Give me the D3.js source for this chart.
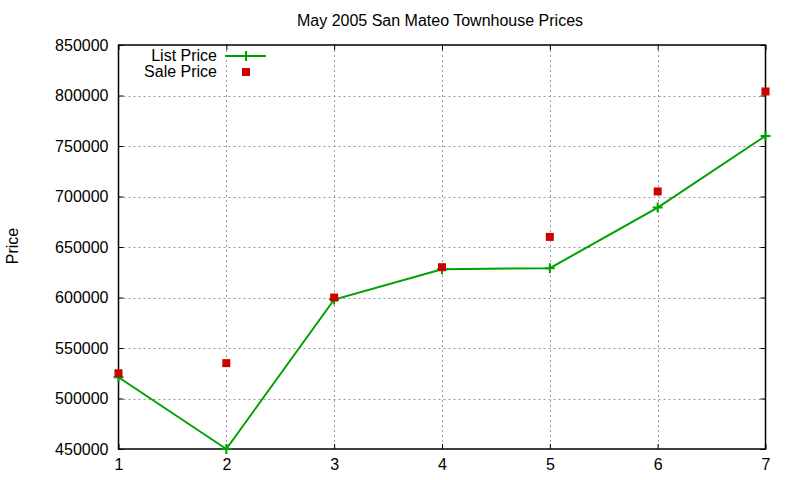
<!DOCTYPE html>
<html>
<head>
<meta charset="utf-8">
<script src="https://cdn.jsdelivr.net/npm/d3@7"></script>
<style>
  body { margin: 0; background: #fff; }
  text { font-family: "Liberation Sans", Arial, sans-serif; fill: #000; }
</style>
</head>
<body>
<svg id="chart" width="800" height="480"></svg>
<script>
// data
const bedrooms = [1, 2, 3, 4, 5, 6, 7];
const listPrice = [521000, 450000, 598000, 628000, 629000, 689000, 760000];
const salePrice = [525000, 535000, 600000, 630000, 660000, 705000, 804000];
const yTicks = [450000, 500000, 550000, 600000, 650000, 700000, 750000, 800000, 850000];

const margin = {top: 45, right: 34.5, bottom: 31, left: 118.5};
const width = 800, height = 480;

const svg = d3.select('#chart');

const x = d3.scaleLinear().domain([1, 7]).range([margin.left, width - margin.right]);
const y = d3.scaleLinear().domain([450000, 850000]).range([height - margin.bottom, margin.top]);

// grid
const grid = svg.append('g').attr('stroke', '#999').attr('stroke-width', 1).attr('stroke-dasharray', '2,3');
grid.selectAll('.gx').data(bedrooms.slice(1, -1)).join('line')
  .attr('x1', d => Math.round(x(d)) + 0.5).attr('x2', d => Math.round(x(d)) + 0.5)
  .attr('y1', margin.top).attr('y2', height - margin.bottom);
grid.selectAll('.gy').data(yTicks.slice(1, -1)).join('line')
  .attr('y1', d => Math.round(y(d)) + 0.5).attr('y2', d => Math.round(y(d)) + 0.5)
  .attr('x1', margin.left).attr('x2', width - margin.right);

// axes
const fmt = d3.format('d');
svg.append('g')
  .attr('transform', `translate(${margin.left},0)`)
  .call(d3.axisLeft(y).tickValues(yTicks).tickFormat(fmt).tickSizeInner(-5).tickSizeOuter(0).tickPadding(10))
  .call(g => g.select('.domain').remove())
  .call(g => g.selectAll('text').style('font-size', '16px'));
svg.append('g')
  .attr('transform', `translate(${width - margin.right},0)`)
  .call(d3.axisRight(y).tickValues(yTicks).tickFormat('').tickSizeInner(-5).tickSizeOuter(0))
  .call(g => g.select('.domain').remove());
svg.append('g')
  .attr('transform', `translate(0,${height - margin.bottom})`)
  .call(d3.axisBottom(x).tickValues(bedrooms).tickFormat(fmt).tickSizeInner(-5).tickSizeOuter(0).tickPadding(10))
  .call(g => g.select('.domain').remove())
  .call(g => g.selectAll('text').style('font-size', '16px'));
svg.append('g')
  .attr('transform', `translate(0,${margin.top})`)
  .call(d3.axisTop(x).tickValues(bedrooms).tickFormat('').tickSizeInner(-5).tickSizeOuter(0))
  .call(g => g.select('.domain').remove());

svg.append('rect')
  .attr('x', margin.left).attr('y', margin.top)
  .attr('width', width - margin.left - margin.right)
  .attr('height', height - margin.top - margin.bottom)
  .attr('fill', 'none').attr('stroke', '#000').attr('stroke-width', 1.5);

// list price line
const green = '#00a000';
const red = '#cc0000';
const line = d3.line().x((d, i) => x(bedrooms[i])).y(d => y(d));
svg.append('path').datum(listPrice)
  .attr('d', line).attr('fill', 'none').attr('stroke', green).attr('stroke-width', 2);

const plus = (g, cx, cy) => g.append('path')
  .attr('d', `M${cx - 5},${cy}H${cx + 5}M${cx},${cy - 5}V${cy + 5}`)
  .attr('stroke', green).attr('stroke-width', 2);

const pts = svg.append('g');
listPrice.forEach((d, i) => plus(pts, x(bedrooms[i]), y(d)));

// sale price squares
svg.append('g').selectAll('rect').data(salePrice).join('rect')
  .attr('x', (d, i) => x(bedrooms[i]) - 4).attr('y', d => y(d) - 4)
  .attr('width', 8).attr('height', 8).attr('fill', red);

// title and axis label
svg.append('text').attr('x', 440).attr('y', 26).attr('text-anchor', 'middle')
  .style('font-size', '16px').text('May 2005 San Mateo Townhouse Prices');
svg.append('text').attr('transform', 'translate(18,246) rotate(-90)').attr('text-anchor', 'middle')
  .style('font-size', '16px').text('Price');

// legend
const leg = svg.append('g');
leg.append('text').attr('x', 217).attr('y', 61).attr('text-anchor', 'end').style('font-size', '16px').text('List Price');
leg.append('line').attr('x1', 225).attr('x2', 266).attr('y1', 56).attr('y2', 56).attr('stroke', green).attr('stroke-width', 2);
plus(leg, 246, 56);
leg.append('text').attr('x', 217).attr('y', 77).attr('text-anchor', 'end').style('font-size', '16px').text('Sale Price');
leg.append('rect').attr('x', 242).attr('y', 68).attr('width', 8).attr('height', 8).attr('fill', red);
</script>
</body>
</html>
